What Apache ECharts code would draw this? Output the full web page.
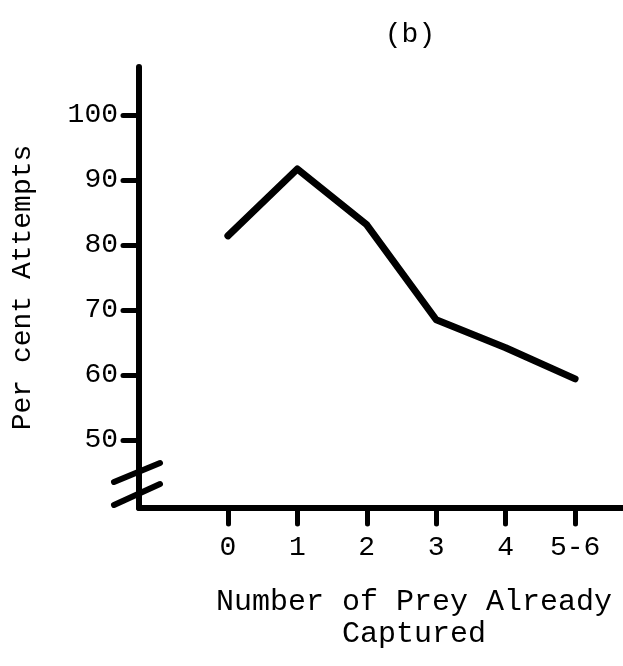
<!DOCTYPE html>
<html>
<head>
<meta charset="utf-8">
<script src="https://cdn.jsdelivr.net/npm/echarts@6/dist/echarts.min.js"></script>
<style>
  html, body { margin: 0; padding: 0; background: #fff; }
  #chart { width: 623px; height: 666px; }
</style>
</head>
<body>
<div id="chart"></div>
<script>
// prey already captured vs per cent attempts
var categories = ['0', '1', '2', '3', '4', '5-6'];
var attempts = [81.4, 91.7, 83.1, 68.5, 64.2, 59.4];
var yTicks = [50, 60, 70, 80, 90, 100];
var xTicks = [0, 1, 2, 3, 4, 5];

var font = 'Liberation Mono';
var chart = document.getElementById('chart');
var myChart = echarts.init(chart);

var option = {
    animation: false,
    backgroundColor: '#fff',
    title: {
        text: '(b)',
        left: 405,
        top: 16,
        textAlign: 'center',
        textStyle: { fontFamily: font, fontSize: 28, fontWeight: 'normal', color: '#000' }
    },
    grid: { left: 139, right: 0, top: 67, bottom: 158, outerBoundsMode: 'none' },
    xAxis: {
        type: 'value',
        min: -1.28,
        max: 5.69,
        splitLine: { show: false },
        axisLine: { onZero: false, lineStyle: { color: '#000', width: 6 } },
        axisTick: {
            customValues: xTicks,
            length: 16,
            lineStyle: { color: '#000', width: 5, cap: 'round' }
        },
        axisLabel: {
            customValues: xTicks,
            margin: 26,
            fontFamily: font,
            fontSize: 28,
            color: '#000',
            formatter: function (v) { return categories[Math.round(v)]; }
        },
        name: 'Number of Prey Already\nCaptured',
        nameLocation: 'middle',
        nameGap: 78,
        nameTextStyle: {
            fontFamily: font,
            fontSize: 30,
            lineHeight: 32,
            color: '#000',
            padding: [0, 0, 0, 66]
        }
    },
    yAxis: {
        type: 'value',
        min: 39.54,
        max: 107.38,
        splitLine: { show: false },
        axisLine: { show: true, onZero: false, lineStyle: { color: '#000', width: 6 } },
        axisTick: {
            show: true,
            customValues: yTicks,
            length: 16,
            lineStyle: { color: '#000', width: 5, cap: 'round' }
        },
        axisLabel: {
            customValues: yTicks,
            margin: 21,
            fontFamily: font,
            fontSize: 28,
            color: '#000'
        },
        name: 'Per cent Attempts',
        nameLocation: 'middle',
        nameGap: 102,
        nameTextStyle: { fontFamily: font, fontSize: 28, color: '#000' }
    },
    graphic: [
        // axis break marks
        { type: 'line', shape: { x1: 114, y1: 482, x2: 160, y2: 463 }, style: { stroke: '#000', lineWidth: 6, lineCap: 'round' } },
        { type: 'line', shape: { x1: 114, y1: 505, x2: 160, y2: 484 }, style: { stroke: '#000', lineWidth: 6, lineCap: 'round' } }
    ],
    series: [{
        type: 'line',
        symbol: 'none',
        lineStyle: { color: '#000', width: 7, cap: 'round', join: 'round' },
        data: categories.map(function (c, i) { return [i, attempts[i]]; })
    }]
};

myChart.setOption(option);
</script>
</body>
</html>
